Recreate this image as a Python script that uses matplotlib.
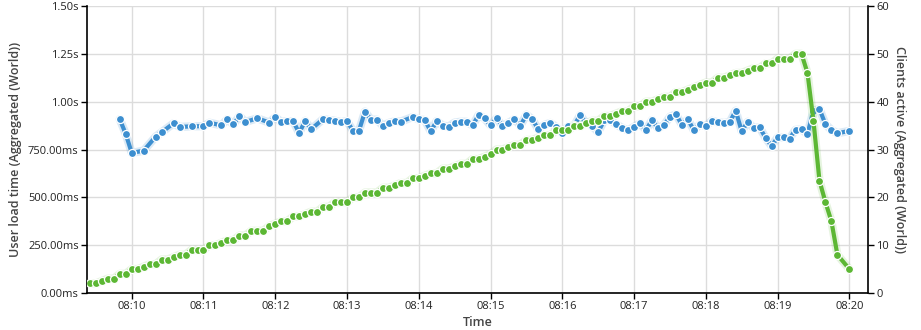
import matplotlib
matplotlib.use('Agg')
import matplotlib.pyplot as plt
import matplotlib.dates as mdates
import numpy as np
import pandas as pd

plt.rcParams['font.family'] = ['Open Sans', 'DejaVu Sans']

# samples every 5 seconds, starting 08:09:25
start = '2020-01-01 08:09:25'
n_slots = 128

# user load time in ms (None = no sample in that slot)
load_ms = [
    None, None, None, None, None, 908, 831, 732, None, 744,
    None, 817, 840, None, 887, 868, None, 871, None, 872,
    890, None, 876, 909, 881, 925, 894, None, 913, None,
    891, 919, 894, 898, 898, 836, 900, 856, None, 909,
    904, 900, 893, 898, 848, 848, 948, 906, 906, 874,
    889, 897, 896, None, 920, 907, 904, 845, 899, 875,
    870, 891, 895, 895, 876, 930, 913, 876, 913, 873,
    889, 908, 875, 932, 907, 855, 879, 889, 867, 838,
    871, 876, 931, 885, 873, 841, 902, 906, 882, 863,
    850, 869, 886, 852, 904, 861, 878, 921, 934, 879,
    908, 850, 882, 872, 900, 892, 889, 893, 953, 845,
    895, 862, 866, 810, 768, 813, 813, 807, 853, 855,
    832, 952, 962, 882, 852, 835, None, 847,
]

# clients active
clients = [
    2, 2, 2.5, 3, 3, 4, 4, 5, 5, 5.5,
    6, 6, 7, 7, 7.5, 8, 8, 9, 9, 9,
    10, 10, 10.5, 11, 11, 12, 12, 13, 13, 13,
    14, 14.5, 15, 15, 16, 16, 16.5, 17, 17, 18,
    18, 19, 19, 19, 20, 20, 21, 21, 21, 22,
    22, 22.5, 23, 23, 24, 24, 24.5, 25, 25, 26,
    26, 26.5, 27, 27, 28, 28, 28.5, 29, 30, 30,
    30.5, 31, 31, 32, 32, 32.5, 33, 33, 34, 34,
    34, 35, 35, 35.5, 36, 36, 37, 37, 37.5, 38,
    38, 39, 39, 40, 40, 40.5, 41, 41, 42, 42,
    42.5, 43, 43.5, 44, 44, 45, 45, 45.5, 46, 46,
    46.5, 47, 47, 48, 48, 49, 49, 49, 50, 50,
    46, 36, 23.5, 19, 15, 8, None, 5,
]

ms_ticks = [0, 250, 500, 750, 1000, 1250, 1500]
ms_labels = ['0.00ms', '250.00ms', '500.00ms', '750.00ms', '1.00s', '1.25s', '1.50s']

blue = '#3d8fd0'
green = '#5cb734'

times = pd.date_range(start, periods=n_slots, freq='5s')
load = pd.Series(load_ms, index=times, dtype=float).dropna()
active = pd.Series(clients, index=times, dtype=float).dropna()

fig = plt.figure(figsize=(9.21, 3.30), dpi=100)
ax = fig.add_axes([87 / 921, 1 - 293 / 330, 781 / 921, 287 / 330])
ax2 = ax.twinx()

# load time with a soft halo under the line
ax.plot(load.index, load.values, color=blue, lw=6, alpha=0.18, solid_capstyle='round', zorder=2)
ax.plot(load.index, load.values, color=blue, lw=3.0, marker='o', ms=5.8,
        mec='white', mew=0.9, zorder=3)

ax2.plot(active.index, active.values, color=green, lw=6, alpha=0.15, solid_capstyle='round')
ax2.plot(active.index, active.values, color=green, lw=3.0, marker='o', ms=5.8,
         mec='white', mew=0.9)

ax.set_ylim(0, 1500)
ax.set_yticks(ms_ticks)
ax.set_yticklabels(ms_labels)
ax2.set_ylim(0, 60)
ax2.set_yticks(range(0, 61, 10))

t0 = pd.Timestamp('2020-01-01 08:10:00')
ax.set_xlim(t0 - pd.Timedelta(seconds=37.4), t0 + pd.Timedelta(seconds=615.6))
ax.xaxis.set_major_locator(mdates.MinuteLocator())
ax.xaxis.set_major_formatter(mdates.DateFormatter('%H:%M'))

ax.grid(True, color='#dcdcdc', lw=1)
ax.set_axisbelow(True)

for a in (ax, ax2):
    a.spines['top'].set_visible(False)
    for s in ('left', 'right', 'bottom'):
        a.spines[s].set_color('black')
        a.spines[s].set_linewidth(1.2)
    a.tick_params(length=4, width=1, colors='black', labelsize=8, labelcolor='#222222', pad=2)
ax.spines['right'].set_visible(False)
ax2.spines['left'].set_visible(False)
ax2.spines['bottom'].set_visible(False)

lab = dict(fontsize=9, color='#444444', fontweight='semibold')
ax.set_xlabel('Time', labelpad=3, **lab)
ax.set_ylabel('User load time (Aggregated (World))', labelpad=4, **lab)
ax2.set_ylabel('Clients active (Aggregated (World))', rotation=-90, labelpad=12, **lab)

fig.savefig('out.png', dpi=100)
